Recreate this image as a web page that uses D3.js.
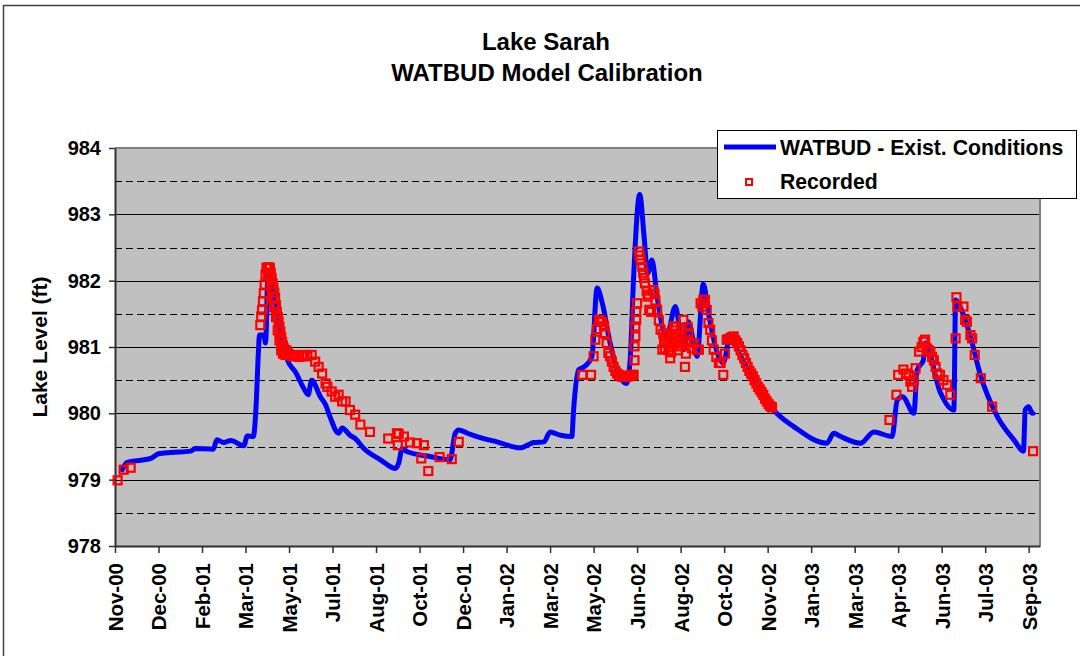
<!DOCTYPE html>
<html>
<head>
<meta charset="utf-8">
<script src="https://cdnjs.cloudflare.com/ajax/libs/d3/7.8.5/d3.min.js"></script>
<style>
body { margin: 0; background: #fff; }
text { font-family: "Liberation Sans", Arial, sans-serif; font-weight: bold; fill: #000; }
</style>
</head>
<body>
<script>
// WATBUD model run (daily series at its turning points)
var modelDates = [
  "2000-11-08","2000-11-15","2000-12-12","2000-12-21","2001-01-04","2001-01-27","2001-02-01","2001-02-22",
  "2001-02-26","2001-03-06","2001-03-14","2001-03-29","2001-04-02","2001-04-09","2001-04-12","2001-04-15",
  "2001-04-16","2001-04-21","2001-04-23","2001-04-26","2001-05-04","2001-05-12","2001-05-19","2001-05-27",
  "2001-06-08","2001-06-11","2001-06-15","2001-06-25","2001-07-01","2001-07-06","2001-07-16","2001-07-20",
  "2001-07-29","2001-08-04","2001-08-14","2001-09-02","2001-09-19","2001-09-23","2001-09-27","2001-10-03",
  "2001-10-29","2001-11-21","2001-11-27","2001-12-01","2001-12-11","2001-12-22","2002-01-14","2002-02-10",
  "2002-02-18","2002-02-25","2002-03-09","2002-03-16","2002-03-28","2002-04-10","2002-04-12","2002-04-18",
  "2002-04-24","2002-05-03","2002-05-09","2002-05-15","2002-05-24","2002-06-01","2002-06-12","2002-06-16",
  "2002-06-20","2002-06-27","2002-07-02","2002-07-06","2002-07-11","2002-07-17","2002-07-23","2002-07-28",
  "2002-08-07","2002-08-13","2002-08-17","2002-08-22","2002-09-01","2002-09-08","2002-09-14","2002-09-22",
  "2002-10-01","2002-10-09","2002-10-17","2002-11-05","2002-11-28","2002-12-21","2003-01-28","2003-02-05",
  "2003-02-13","2003-03-08","2003-03-23","2003-04-13","2003-04-19","2003-04-25","2003-05-08","2003-05-12",
  "2003-05-19","2003-05-21","2003-06-07","2003-06-23","2003-06-25","2003-06-30","2003-07-12","2003-07-23",
  "2003-08-12","2003-08-31","2003-09-11","2003-09-13","2003-09-17","2003-09-21","2003-09-24"
];
var modelLevels = [
  979.12,979.26,979.32,979.39,979.41,979.43,979.47,979.46,
  979.60,979.56,979.59,979.51,979.66,979.65,980.08,980.98,
  981.18,981.18,981.06,982.15,981.70,981.10,980.78,980.63,
  980.33,980.28,980.50,980.25,980.13,979.95,979.70,979.78,
  979.67,979.62,979.47,979.30,979.17,979.25,979.47,979.42,
  979.35,979.30,979.70,979.75,979.70,979.65,979.57,979.48,
  979.52,979.56,979.57,979.72,979.67,979.65,980.05,980.66,
  980.70,980.85,981.89,981.66,981.06,980.66,980.45,980.80,
  982.06,983.30,982.67,982.11,982.31,981.76,981.31,981.16,
  981.61,981.16,980.96,981.38,980.86,981.95,981.51,981.01,
  980.76,981.16,980.96,980.50,980.05,979.80,979.55,979.70,
  979.65,979.55,979.72,979.65,980.20,980.25,980.00,980.66,
  980.80,981.06,980.33,980.05,981.71,981.61,981.16,980.60,
  979.95,979.60,979.43,980.05,980.10,980.00,980.02
];

// recorded lake levels
var recordedDates = [
  "2000-11-04","2000-11-11","2000-11-19",
  "2001-04-17","2001-04-18","2001-04-19","2001-04-20","2001-04-21","2001-04-22","2001-04-23","2001-04-24",
  "2001-04-25","2001-04-27","2001-04-28","2001-04-29","2001-04-30","2001-05-01","2001-05-02","2001-05-03",
  "2001-05-04","2001-05-05","2001-05-06","2001-05-07","2001-05-08","2001-05-09","2001-05-10","2001-05-11",
  "2001-05-12","2001-05-13","2001-05-14","2001-05-15","2001-05-16","2001-05-18","2001-05-21","2001-05-24",
  "2001-05-27","2001-05-31","2001-06-04","2001-06-07","2001-06-10","2001-06-15","2001-06-19","2001-06-23",
  "2001-06-27","2001-07-01","2001-07-03","2001-07-08","2001-07-12","2001-07-16","2001-07-20","2001-07-24",
  "2001-07-29","2001-08-04","2001-08-10","2001-08-21","2001-09-11","2001-09-21","2001-09-22","2001-09-23",
  "2001-09-29","2001-10-06","2001-10-14","2001-10-19","2001-10-22","2001-10-27","2001-11-09","2001-11-23",
  "2001-12-01",
  "2001-04-26","2001-04-29","2001-05-01","2001-05-03","2001-05-05","2001-05-07","2001-05-09","2001-05-11",
  "2001-05-13","2001-05-17","2001-05-19",
  "2002-04-22","2002-05-02","2002-05-05","2002-05-07","2002-05-09","2002-05-11","2002-05-13","2002-05-15",
  "2002-05-17","2002-05-18","2002-05-20","2002-05-22","2002-05-24","2002-05-26","2002-05-28","2002-05-30",
  "2002-06-01","2002-06-03","2002-06-05","2002-06-07","2002-06-10","2002-06-12","2002-06-14","2002-06-16",
  "2002-06-18","2002-06-20","2002-06-21","2002-06-21","2002-06-22","2002-06-22","2002-06-23","2002-06-23",
  "2002-06-24","2002-06-26","2002-06-27","2002-06-28","2002-06-30","2002-07-01","2002-07-02","2002-07-03",
  "2002-07-05","2002-07-06","2002-07-07","2002-07-08","2002-07-10","2002-07-12","2002-07-14","2002-07-15",
  "2002-07-17","2002-07-19","2002-07-21","2002-07-23","2002-07-25","2002-07-28","2002-07-30","2002-08-01",
  "2002-08-03","2002-08-05","2002-08-07","2002-08-09","2002-08-11","2002-08-13","2002-08-16","2002-08-18",
  "2002-08-20","2002-08-22","2002-08-24","2002-08-28","2002-09-01","2002-09-03","2002-09-05","2002-09-07",
  "2002-09-08","2002-09-10","2002-09-12","2002-09-14","2002-09-16","2002-09-18","2002-09-20","2002-09-23",
  "2002-09-26","2002-09-28","2002-10-01","2002-10-03","2002-10-05","2002-10-07","2002-10-09","2002-10-11",
  "2002-10-13","2002-10-15","2002-10-17","2002-10-19","2002-10-21","2002-10-23","2002-10-25","2002-10-27",
  "2002-10-29","2002-10-31","2002-11-02","2002-11-04","2002-11-06","2002-11-08","2002-11-10","2002-11-12",
  "2002-11-14","2002-11-16","2002-11-18","2002-11-20","2002-11-22","2002-11-24","2002-11-26",
  "2002-07-24","2002-07-26","2002-07-27","2002-07-29","2002-07-31","2002-08-02","2002-08-04","2002-08-06",
  "2002-08-08","2002-08-10","2002-08-12","2002-08-14","2002-08-15","2002-08-19","2002-08-21","2002-08-26",
  "2003-04-10","2003-04-18","2003-04-20","2003-04-26","2003-04-29","2003-05-02","2003-05-04","2003-05-06",
  "2003-05-08","2003-05-10","2003-05-14","2003-05-17","2003-05-19","2003-05-21","2003-05-23","2003-05-25",
  "2003-05-27","2003-05-29","2003-05-31","2003-06-02","2003-06-04","2003-06-07","2003-06-11","2003-06-15",
  "2003-06-19","2003-06-25","2003-06-26","2003-06-27","2003-07-04","2003-07-06","2003-07-08","2003-07-12",
  "2003-07-14","2003-07-17","2003-07-24","2003-08-06","2003-09-22"
];
var recordedLevels = [
  978.99,979.15,979.18,
  981.33,981.46,981.56,981.69,981.81,981.94,982.09,982.19,
  982.20,982.20,982.19,982.12,982.04,981.96,981.89,981.82,
  981.74,981.63,981.53,981.45,981.38,981.30,981.23,981.15,
  981.08,981.02,980.98,980.92,980.88,980.90,980.88,980.86,
  980.88,980.85,980.86,980.88,980.86,980.88,980.78,980.70,
  980.60,980.45,980.40,980.33,980.25,980.28,980.18,980.18,
  980.05,979.98,979.83,979.72,979.62,979.70,979.52,979.69,
  979.65,979.56,979.55,979.32,979.52,979.13,979.34,979.31,
  979.57,
  982.10,981.95,981.75,981.60,981.45,981.25,981.10,980.95,
  980.90,980.95,980.90,
  980.58,980.58,980.86,981.11,981.27,981.41,981.38,981.38,
  981.31,981.21,981.06,980.91,980.86,980.78,980.70,980.64,
  980.60,980.58,980.56,980.55,980.55,980.55,980.57,980.56,
  980.58,980.58,980.80,981.01,981.16,981.31,981.41,981.53,
  981.66,982.44,982.38,982.31,982.21,982.12,982.04,981.96,
  981.85,981.76,981.79,981.56,981.53,981.86,981.80,981.70,
  981.56,981.40,981.26,980.96,981.10,981.06,980.95,980.83,
  981.05,981.31,981.25,981.16,981.08,981.01,981.41,980.70,
  981.10,981.21,981.06,981.06,980.96,980.96,981.66,981.61,
  981.71,981.71,981.56,981.36,981.26,981.10,980.96,980.85,
  980.76,980.76,980.58,980.90,981.11,981.12,981.13,981.15,
  981.16,981.10,981.06,981.01,980.95,980.88,980.83,980.76,
  980.70,980.64,980.60,980.56,980.50,980.45,980.40,980.36,
  980.32,980.28,980.22,980.18,980.14,980.11,980.09,
  981.20,980.98,981.15,981.20,981.00,980.92,981.20,981.30,
  981.05,980.95,981.20,981.25,981.10,980.90,981.30,980.98,
  979.90,980.28,980.58,980.66,980.60,980.58,980.48,980.40,
  980.50,980.68,980.93,981.00,981.08,981.11,980.98,980.95,
  980.93,980.85,980.80,980.70,980.60,980.58,980.50,980.43,
  980.28,981.13,981.75,981.61,981.61,981.41,981.38,981.18,
  981.13,980.88,980.53,980.10,979.43
];

var xDomain = ["2000-11-01", "2003-09-30"];
var xTickDates = ["2000-11-01","2000-12-21","2001-02-09","2001-03-31","2001-05-20","2001-07-09","2001-08-28",
  "2001-10-17","2001-12-06","2002-01-25","2002-03-16","2002-05-05","2002-06-24","2002-08-13","2002-10-02",
  "2002-11-21","2003-01-10","2003-03-01","2003-04-20","2003-06-09","2003-07-29","2003-09-17"];
var xTickLabels = ["Nov-00","Dec-00","Feb-01","Mar-01","May-01","Jul-01","Aug-01","Oct-01","Dec-01","Jan-02",
  "Mar-02","May-02","Jun-02","Aug-02","Oct-02","Nov-02","Jan-03","Mar-03","Apr-03","Jun-03","Jul-03","Sep-03"];
var yTicks = [978, 979, 980, 981, 982, 983, 984];
var yHalfTicks = [978.5, 979.5, 980.5, 981.5, 982.5, 983.5];
var seriesNames = ["WATBUD - Exist. Conditions", "Recorded"];

(function(){
    var width = 1080,
        height = 656;
    var left = 115, right = 1040, top = 148, bottom = 546;

    var parse = d3.timeParse("%Y-%m-%d");

    var svg = d3.select("body").append("svg")
                .attr("width", width)
                .attr("height", height);

    // chart frame
    svg.append("rect")
       .attr("x", 3.5).attr("y", 5.5)
       .attr("width", 1100).attr("height", 700)
       .attr("fill", "#fff")
       .attr("stroke", "#404040")
       .attr("stroke-width", 1.5);

    var x = d3.scaleTime()
              .domain(xDomain.map(parse))
              .range([left, right]);
    var y = d3.scaleLinear()
              .domain([978, 984])
              .range([bottom, top]);

    svg.append("rect")
       .attr("x", left).attr("y", top)
       .attr("width", right - left).attr("height", bottom - top)
       .attr("fill", "#c0c0c0");

    // grid
    svg.append("g").selectAll("line")
       .data(yTicks.slice(1, -1))
       .enter().append("line")
       .attr("x1", left).attr("x2", right)
       .attr("y1", function(d){ return Math.round(y(d)) + 0.5; })
       .attr("y2", function(d){ return Math.round(y(d)) + 0.5; })
       .attr("stroke", "#000")
       .attr("stroke-width", 1);

    svg.append("g").selectAll("line")
       .data(yHalfTicks)
       .enter().append("line")
       .attr("x1", left).attr("x2", right)
       .attr("y1", function(d){ return Math.round(y(d)) + 0.5; })
       .attr("y2", function(d){ return Math.round(y(d)) + 0.5; })
       .attr("stroke", "#000")
       .attr("stroke-width", 1)
       .attr("stroke-dasharray", "7,4");

    // top and right border
    svg.append("path")
       .attr("d", "M" + left + "," + top + "H" + right + "V" + bottom)
       .attr("fill", "none")
       .attr("stroke", "#808080")
       .attr("stroke-width", 2);

    // axes
    var yAxis = svg.append("g")
                   .attr("transform", "translate(" + left + ",0)")
                   .call(d3.axisLeft(y).tickValues(yTicks).tickSize(6).tickSizeOuter(0).tickPadding(8).tickFormat(d3.format("d")));
    yAxis.select(".domain").attr("stroke", "#303030").attr("stroke-width", 2);
    yAxis.selectAll(".tick line").attr("stroke", "#303030").attr("stroke-width", 1.5);
    yAxis.selectAll("text")
         .attr("font-size", 20)
         .attr("font-family", "'Liberation Sans', Arial, sans-serif")
         .attr("font-weight", "bold")
         .attr("fill", "#000");

    var xAxis = svg.append("g")
                   .attr("transform", "translate(0," + bottom + ")")
                   .call(d3.axisBottom(x)
                           .tickValues(xTickDates.map(parse))
                           .tickSize(7).tickSizeOuter(0)
                           .tickFormat(function(d, i){ return xTickLabels[i]; }));
    xAxis.select(".domain").attr("stroke", "#303030").attr("stroke-width", 2);
    xAxis.selectAll(".tick line").attr("stroke", "#303030").attr("stroke-width", 1.5);
    xAxis.selectAll("text")
         .attr("font-size", 20.5)
         .attr("font-family", "'Liberation Sans', Arial, sans-serif")
         .attr("font-weight", "bold")
         .attr("fill", "#000")
         .attr("transform", "rotate(-90)")
         .attr("text-anchor", "end")
         .attr("x", -17)
         .attr("y", 0)
         .attr("dy", "0.36em");

    // model line
    var modelData = modelDates.map(function(d, i){ return {date: parse(d), level: modelLevels[i]}; });
    var line = d3.line()
                 .x(function(d){ return x(d.date); })
                 .y(function(d){ return y(d.level); })
                 .curve(d3.curveMonotoneX);

    svg.append("path")
       .datum(modelData)
       .attr("d", line)
       .attr("fill", "none")
       .attr("stroke", "#0000ff")
       .attr("stroke-width", 5)
       .attr("stroke-linejoin", "round");

    // recorded points
    var recData = recordedDates.map(function(d, i){ return {date: parse(d), level: recordedLevels[i]}; });
    svg.append("g").selectAll("rect")
       .data(recData)
       .enter().append("rect")
       .attr("x", function(d){ return x(d.date) - 4; })
       .attr("y", function(d){ return y(d.level) - 4; })
       .attr("width", 8).attr("height", 8)
       .attr("fill", "none")
       .attr("stroke", "#ff0000")
       .attr("stroke-width", 2.2);

    // titles
    svg.append("text")
       .attr("x", 546).attr("y", 50)
       .attr("text-anchor", "middle")
       .attr("font-size", 24)
       .text("Lake Sarah");
    svg.append("text")
       .attr("x", 547).attr("y", 81)
       .attr("text-anchor", "middle")
       .attr("font-size", 24)
       .text("WATBUD Model Calibration");

    svg.append("text")
       .attr("transform", "translate(47," + ((top + bottom) / 2) + ") rotate(-90)")
       .attr("text-anchor", "middle")
       .attr("font-size", 21)
       .text("Lake Level (ft)");

    // legend
    var legend = svg.append("g");
    legend.append("rect")
          .attr("x", 717.5).attr("y", 130.5)
          .attr("width", 359).attr("height", 68)
          .attr("fill", "#fff")
          .attr("stroke", "#000")
          .attr("stroke-width", 1);
    legend.append("line")
          .attr("x1", 724).attr("x2", 776)
          .attr("y1", 147).attr("y2", 147)
          .attr("stroke", "#0000ff")
          .attr("stroke-width", 5);
    legend.append("rect")
          .attr("x", 746).attr("y", 179)
          .attr("width", 6).attr("height", 6)
          .attr("fill", "#fff")
          .attr("stroke", "#ff0000")
          .attr("stroke-width", 2);
    legend.selectAll("text.lbl")
          .data(seriesNames)
          .enter().append("text")
          .attr("class", "lbl")
          .attr("x", 780)
          .attr("y", function(d, i){ return 155 + i * 34; })
          .attr("font-size", 21.2)
          .text(function(d){ return d; });
})();
</script>
</body>
</html>
